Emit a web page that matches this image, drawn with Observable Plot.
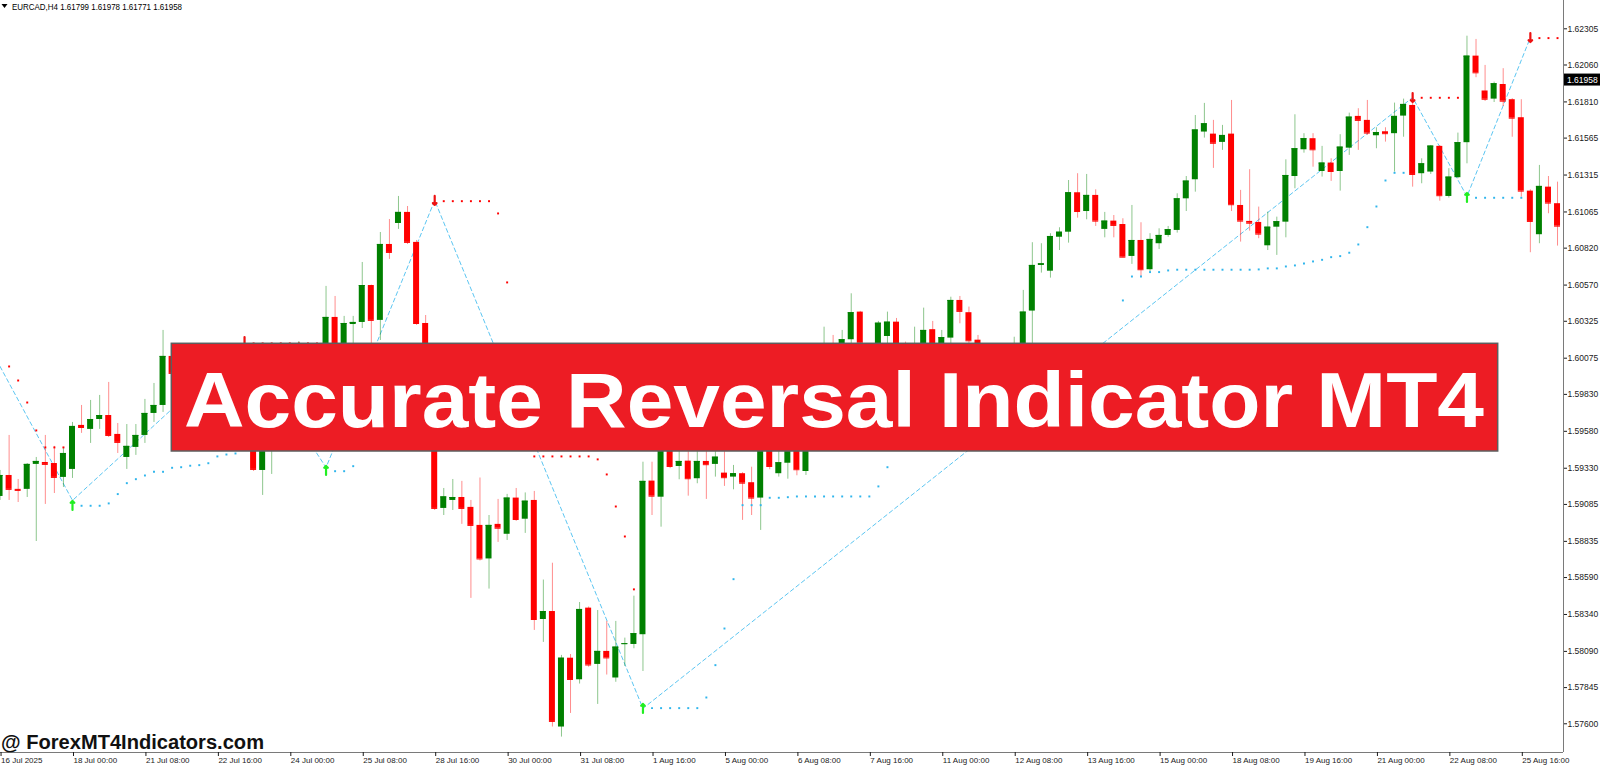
<!DOCTYPE html>
<html>
<head>
<meta charset="utf-8">
<script src="https://cdn.jsdelivr.net/npm/d3@7"></script>
<script src="https://cdn.jsdelivr.net/npm/@observablehq/plot@0.6"></script>
<style>
  html, body { margin: 0; padding: 0; background: #ffffff; }
  #wrap { position: relative; width: 1600px; height: 768px; overflow: hidden; background: #fff; }
  #wrap > svg { position: absolute; left: 0; top: 0; }
</style>
</head>
<body>
<div id="wrap"></div>
<script>
// ---------- DATA (EURCAD H4, bar k = 0 .. 172) ----------
const opens = [
1.59139,1.59281,1.59187,1.59187,1.59356,1.59369,1.59362,1.59268,1.59322,1.59620,
1.59593,1.59660,1.59687,1.59559,1.59403,1.59471,1.59552,1.59701,1.59755,1.60087,
1.59972,1.59890,1.59979,1.60060,1.60114,1.60026,1.60073,1.60128,1.59924,1.59315,
1.59518,1.59654,1.59586,1.59687,1.59789,1.59654,1.59518,1.60351,1.60128,1.60303,
1.60317,1.60567,1.60331,1.60845,1.60987,1.61062,1.60859,1.60310,1.59857,1.59058,
1.59112,1.59132,1.59065,1.58943,1.58716,1.58950,1.58883,1.59128,1.58985,1.59112,
1.58306,1.58360,1.57578,1.58044,1.57898,1.58383,1.58002,1.58090,1.57910,1.58137,
1.58137,1.58203,1.59243,1.59134,1.59518,1.59342,1.59378,1.59259,1.59376,1.59356,
1.59297,1.59270,1.59293,1.59232,1.59128,1.59586,1.59293,1.59364,1.59586,1.59308,
1.59721,1.59992,1.60128,1.60060,1.60200,1.60387,1.60161,1.60026,1.60222,1.60319,
1.60060,1.59958,1.60161,1.60268,1.60094,1.60211,1.60466,1.60383,1.60197,1.60060,
1.59890,1.59992,1.60094,1.60161,1.60394,1.60703,1.60664,1.60894,1.60928,1.61195,
1.61068,1.61177,1.60947,1.61003,1.60980,1.60764,1.60872,1.60674,1.60850,1.60906,
1.60940,1.61154,1.61283,1.61606,1.61592,1.61536,1.61592,1.61109,1.61001,1.60994,
1.60836,1.60962,1.60996,1.61305,1.61486,1.61561,1.61339,1.61396,1.61339,1.61497,
1.61712,1.61685,1.61581,1.61608,1.61595,1.61714,1.61786,1.61324,1.61335,1.61509,
1.61170,1.61297,1.61534,1.62120,1.61884,1.61829,1.61928,1.61825,1.61703,1.61206,
1.60911,1.61233,1.61121];
const highs = [
1.59315,1.59552,1.59254,1.59362,1.59403,1.59552,1.59478,1.59471,1.59640,1.59755,
1.59789,1.59823,1.59911,1.59633,1.59626,1.59626,1.59796,1.59904,1.60263,1.60114,
1.60026,1.60006,1.60094,1.60141,1.60148,1.60128,1.60155,1.60155,1.59979,1.59572,
1.59708,1.59755,1.59735,1.60188,1.59857,1.59721,1.60561,1.60493,1.60358,1.60358,
1.60723,1.60570,1.60926,1.61014,1.61170,1.61102,1.60872,1.60364,1.59924,1.59193,
1.59254,1.59241,1.59112,1.59264,1.59010,1.59119,1.59153,1.59193,1.59163,1.59173,
1.58573,1.58687,1.58063,1.58069,1.58421,1.58391,1.58367,1.58293,1.58293,1.58180,
1.58464,1.59371,1.59371,1.59586,1.59572,1.59484,1.59484,1.59484,1.59518,1.59518,
1.59518,1.59349,1.59300,1.59337,1.59654,1.59654,1.59518,1.59620,1.59654,1.59789,
1.60060,1.60285,1.60229,1.60263,1.60511,1.60392,1.60168,1.60324,1.60387,1.60344,
1.60184,1.60285,1.60414,1.60324,1.60263,1.60488,1.60493,1.60421,1.60229,1.60128,
1.60060,1.60128,1.60217,1.60534,1.60857,1.60850,1.60918,1.60958,1.61278,1.61324,
1.61319,1.61215,1.61062,1.61041,1.61019,1.61109,1.60992,1.60918,1.60951,1.60967,
1.61188,1.61305,1.61718,1.61800,1.61685,1.61651,1.61820,1.61211,1.61351,1.61098,
1.61064,1.61030,1.61418,1.61723,1.61595,1.61595,1.61509,1.61425,1.61588,1.61734,
1.61764,1.61820,1.61635,1.61635,1.61802,1.61829,1.61834,1.61425,1.61515,1.61515,
1.61358,1.61599,1.62255,1.62233,1.62057,1.61944,1.62035,1.61832,1.61825,1.61215,
1.61380,1.61305,1.61267];
const lows = [
1.59112,1.59112,1.59098,1.59132,1.58834,1.59085,1.59159,1.59200,1.59261,1.59566,
1.59498,1.59593,1.59538,1.59430,1.59322,1.59417,1.59498,1.59640,1.59708,1.59924,
1.59843,1.59823,1.59924,1.59992,1.59979,1.59992,1.60019,1.59843,1.59308,1.59146,
1.59288,1.59518,1.59532,1.59620,1.59599,1.59450,1.59464,1.60094,1.59992,1.60128,
1.60276,1.60161,1.60195,1.60744,1.60947,1.60845,1.60297,1.59789,1.59044,1.59010,
1.59044,1.58950,1.58449,1.58702,1.58512,1.58828,1.58841,1.58970,1.58889,1.58232,
1.58151,1.57578,1.57510,1.57670,1.57869,1.57983,1.57731,1.57930,1.57881,1.57988,
1.58108,1.57954,1.59010,1.58931,1.59327,1.59252,1.59141,1.59225,1.59119,1.59270,
1.59207,1.59184,1.58977,1.59010,1.58909,1.59320,1.59270,1.59256,1.59279,1.59281,
1.59654,1.59924,1.59979,1.60019,1.60161,1.60128,1.59924,1.59958,1.60161,1.59924,
1.59857,1.59890,1.60060,1.60026,1.60026,1.60161,1.60308,1.60161,1.59992,1.59823,
1.59789,1.59924,1.60026,1.60114,1.60175,1.60651,1.60617,1.60804,1.60854,1.61023,
1.61012,1.60967,1.60890,1.60890,1.60755,1.60710,1.60628,1.60662,1.60811,1.60894,
1.60922,1.61068,1.61199,1.61565,1.61360,1.61482,1.61068,1.60861,1.60935,1.60884,
1.60804,1.60771,1.60890,1.61222,1.61463,1.61368,1.61301,1.61272,1.61206,1.61448,
1.61482,1.61583,1.61493,1.61538,1.61335,1.61571,1.61233,1.61256,1.61319,1.61138,
1.61159,1.61290,1.61391,1.61974,1.61813,1.61806,1.61779,1.61571,1.61165,1.60789,
1.60850,1.61053,1.60834];
const closes = [
1.59281,1.59187,1.59180,1.59356,1.59376,1.59356,1.59268,1.59430,1.59613,1.59606,
1.59660,1.59687,1.59552,1.59505,1.59478,1.59552,1.59701,1.59755,1.60087,1.59972,
1.59890,1.59979,1.60060,1.60114,1.60026,1.60073,1.60128,1.59924,1.59322,1.59518,
1.59654,1.59586,1.59687,1.59789,1.59654,1.59518,1.60351,1.60161,1.60310,1.60317,
1.60567,1.60331,1.60845,1.60791,1.61062,1.60859,1.60310,1.59857,1.59058,1.59136,
1.59132,1.59058,1.58943,1.58716,1.58943,1.58924,1.59128,1.58983,1.59107,1.58306,
1.58360,1.57616,1.58044,1.57900,1.58374,1.57998,1.58090,1.58046,1.58119,1.58142,
1.58210,1.59241,1.59141,1.59518,1.59342,1.59376,1.59259,1.59376,1.59354,1.59405,
1.59266,1.59293,1.59229,1.59128,1.59586,1.59342,1.59367,1.59586,1.59320,1.59721,
1.59992,1.60128,1.60060,1.60200,1.60383,1.60177,1.60026,1.60312,1.60319,1.60060,
1.59958,1.60161,1.60263,1.60094,1.60214,1.60466,1.60392,1.60193,1.60060,1.59890,
1.59992,1.60094,1.60161,1.60387,1.60703,1.60714,1.60899,1.60928,1.61195,1.61068,
1.61177,1.61003,1.61003,1.60974,1.60759,1.60872,1.60674,1.60879,1.60906,1.60945,
1.61154,1.61274,1.61620,1.61662,1.61530,1.61583,1.61114,1.61003,1.60989,1.60915,
1.60962,1.60999,1.61312,1.61493,1.61561,1.61486,1.61396,1.61339,1.61504,1.61707,
1.61685,1.61599,1.61603,1.61595,1.61712,1.61793,1.61319,1.61391,1.61511,1.61175,
1.61301,1.61534,1.62120,1.62007,1.61828,1.61933,1.61815,1.61700,1.61206,1.61001,
1.61238,1.61125,1.60969];

// reversal signals (arrows)
const signalBars   = [8, 27, 36, 48, 71, 156, 162, 169];
const signalLevels = [1.59078, 1.60188, 1.59315, 1.61143, 1.57704, 1.61840, 1.61163, 1.62246];
const signalDirs   = ["up","down","up","down","up","down","up","down"];

// zigzag swing line
const zigzagBars   = [0, 8, 27, 36, 48, 71, 156, 162, 169];
const zigzagLevels = [1.60019, 1.59112, 1.60182, 1.59335, 1.61143, 1.57704, 1.61840, 1.61170, 1.62246];

// trailing stop dots (red = above price, after sell signal)
const resistBars = [1,2,3,4,5,6,7, 28,29,30,31,32,33,34,35,
  49,50,51,52,53,54,55,56,57,58,59,60,61,62,63,64,65,66,67,68,69,70,
  157,158,159,160,161, 170,171,172];
const resistLevels = [1.60019,1.59924,1.59775,1.59586,1.59471,1.59471,1.59471,
  1.60175,1.60175,1.60175,1.60175,1.60175,1.60175,1.60175,1.60175,
  1.61138,1.61138,1.61138,1.61138,1.61138,1.61138,1.61055,1.60588,1.59789,1.59484,
  1.59410,1.59410,1.59410,1.59410,1.59410,1.59410,1.59410,1.59390,1.59288,1.59071,1.58868,1.58510,
  1.61838,1.61838,1.61838,1.61838,1.61838, 1.62242,1.62242,1.62242];

// trailing stop dots (blue = below price, after buy signal)
const supportBars = [9,10,11,12,13,14,15,16,17,18,19,20,21,22,23,24,25,26,
  37,38,39,40,41,42,43,44,45,46,47,
  72,73,74,75,76,77,78,79,80,81,82,83,84,85,86,87,88,89,90,91,92,93,94,95,96,97,98,99,
  100,101,102,103,104,105,106,107,108,109,110,111,112,113,114,115,116,117,118,119,
  120,121,122,123,124,125,126,127,128,129,130,131,132,133,134,135,136,137,138,139,
  140,141,142,143,144,145,146,147,148,149,150,151,152,153,154,155,
  163,164,165,166,167,168];
const supportLevels = [1.59076,1.59076,1.59076,1.59092,1.59155,1.59229,1.59256,1.59281,1.59306,1.59306,
  1.59333,1.59337,1.59347,1.59351,1.59364,1.59410,1.59423,1.59430,
  1.59310,1.59310,1.59344,1.59464,1.59518,1.59586,1.59721,1.59857,1.59992,1.60060,1.60128,
  1.57706,1.57706,1.57706,1.57706,1.57706,1.57706,1.57778,1.57997,1.58245,1.58579,
  1.59080,1.59080,1.59080,1.59130,1.59130,1.59134,
  1.59139,1.59139,1.59139,1.59139,1.59139,1.59139,1.59139,1.59139,1.59139,1.59207,1.59337,
  1.59457,1.59484,1.59518,1.59586,1.59654,1.59721,1.59789,1.59823,1.59857,1.59890,
  1.59924,1.59938,1.59951,1.59965,1.59979,1.59992,1.60026,1.60060,1.60094,1.60114,
  1.60128,1.60141,1.60148,1.60155,1.60161,
  1.60466,1.60628,1.60628,1.60658,1.60658,1.60669,
  1.60674,1.60674,1.60674,1.60674,1.60674,1.60674,1.60674,1.60674,1.60674,
  1.60676,1.60683,1.60683,1.60696,1.60703,1.60716,1.60730,1.60741,1.60759,1.60766,
  1.60789,1.60845,1.60962,1.61102,1.61278,1.61330,1.61330,
  1.61161,1.61161,1.61161,1.61161,1.61161,1.61161];

// axes
const yTicks = [1.62305,1.62060,1.61810,1.61565,1.61315,1.61065,1.60820,1.60570,1.60325,1.60075,
  1.59830,1.59580,1.59330,1.59085,1.58835,1.58590,1.58340,1.58090,1.57845,1.57600];
const xTickBars = [0,8,16,24,32,40,48,56,64,72,80,88,96,104,112,120,128,136,144,152,160,168];
const xTickLabels = ["16 Jul 2025","18 Jul 00:00","21 Jul 08:00","22 Jul 16:00","24 Jul 00:00",
  "25 Jul 08:00","28 Jul 16:00","30 Jul 00:00","31 Jul 08:00","1 Aug 16:00","5 Aug 00:00",
  "6 Aug 08:00","7 Aug 16:00","11 Aug 00:00","12 Aug 08:00","13 Aug 16:00","15 Aug 00:00",
  "18 Aug 08:00","19 Aug 16:00","21 Aug 00:00","22 Aug 08:00","25 Aug 16:00"];
const currentBid = 1.61958;
const headerText = "EURCAD,H4  1.61799 1.61978 1.61771 1.61958";
const bannerTitle = "Accurate Reversal Indicator MT4";
const watermark = "@ ForexMT4Indicators.com";

// ---------- BUILD ----------
const bars = opens.map((open, k) => ({k, open, high: highs[k], low: lows[k], close: closes[k]}));
const bull = bars.filter(d => d.close >= d.open);
const bear = bars.filter(d => d.close < d.open);
const signals = signalBars.map((k, j) => ({k, v: signalLevels[j], dir: signalDirs[j]}));
const zigzag = zigzagBars.map((k, j) => ({k, v: zigzagLevels[j]}));
const resist = resistBars.map((k, j) => ({k, v: resistLevels[j]}));
const support = supportBars.map((k, j) => ({k, v: supportLevels[j]}));
const labelOf = new Map(xTickBars.map((k, j) => [k, xTickLabels[j]]));

const GREEN = "#008000", RED = "#ff0000", BLUE = "#2fb5ec", LINE = "#5cc6f2";
const xDomain = [0.049, 172.66];
const yDomain = [1.574056, 1.624966];
const half = 0.331;
const FONT = "'Liberation Sans', Arial, sans-serif";

function candles(data, color) {
  return [
    Plot.ruleX(data, {x: "k", y1: "low", y2: "high", stroke: color, strokeOpacity: 0.45, clip: true}),
    Plot.rect(data, {x1: d => d.k - half, x2: d => d.k + half, y1: "open", y2: "close", fill: color, clip: true}),
    Plot.ruleY(data, {x1: d => d.k - half, x2: d => d.k + half, y: "close", stroke: color, clip: true})
  ];
}

const plot = Plot.plot({
  width: 1600, height: 768,
  marginLeft: 0, marginRight: 37, marginTop: 0, marginBottom: 16,
  x: {type: "linear", domain: xDomain},
  y: {type: "linear", domain: yDomain},
  style: {fontFamily: FONT, fontSize: "8px", background: "#ffffff", color: "#1a1a1a"},
  marks: [
    Plot.line(zigzag, {x: "k", y: "v", stroke: LINE, strokeWidth: 1, strokeDasharray: "4,3", clip: true}),
    ...candles(bull, GREEN),
    ...candles(bear, RED),
    Plot.dot(resist, {x: "k", y: "v", symbol: "square", r: 1.1, fill: RED, clip: true}),
    Plot.dot(support, {x: "k", y: "v", symbol: "square", r: 1.1, fill: BLUE, clip: true}),
    Plot.vector(signals.filter(d => d.dir === "up"), {x: "k", y: "v", length: 9, rotate: 0, anchor: "middle", stroke: "#22ee22", strokeWidth: 2.2}),
    Plot.vector(signals.filter(d => d.dir === "down"), {x: "k", y: "v", length: 9, rotate: 180, anchor: "middle", stroke: "#ee1111", strokeWidth: 2.2}),
    Plot.ruleX([xDomain[1]], {stroke: "#7a7a7a"}),
    Plot.ruleY([yDomain[0]], {stroke: "#7a7a7a"}),
    Plot.axisY({ticks: yTicks, anchor: "right", tickSize: 3, tickPadding: 1, tickFormat: d => d.toFixed(5), fontSize: 8.5, label: null, color: "#1a1a1a"}),
    Plot.axisX({ticks: xTickBars, anchor: "bottom", tickSize: 4, tickPadding: 1, tickFormat: d => labelOf.get(d), textAnchor: "start", dx: 1, fontSize: 8, label: null, color: "#1a1a1a"})
  ]
});

const wrap = document.getElementById("wrap");
wrap.appendChild(plot);

// ---------- overlays (header, bid label, banner, watermark) ----------
const yScale = plot.scale("y");
const ov = d3.create("svg").attr("width", 1600).attr("height", 768).attr("viewBox", "0 0 1600 768");
ov.append("path").attr("d", "M1.5,4 L7.5,4 L4.5,8 Z").attr("fill", "#000");
ov.append("text").attr("x", 12).attr("y", 9.5).attr("font-family", FONT).attr("font-size", 8.5)
  .attr("textLength", 170).attr("lengthAdjust", "spacingAndGlyphs").attr("fill", "#000").text(headerText);

const yb = yScale.apply(currentBid);
ov.append("rect").attr("x", 1564).attr("y", yb - 6).attr("width", 36).attr("height", 12).attr("fill", "#000");
ov.append("text").attr("x", 1567).attr("y", yb).attr("dy", "0.35em").attr("font-family", FONT).attr("font-size", 8.5)
  .attr("fill", "#fff").text(currentBid.toFixed(5));

ov.append("rect").attr("x", 171.3).attr("y", 343.3).attr("width", 1326.4).attr("height", 107.7)
  .attr("fill", "#ed1c24").attr("stroke", "#5e5e5e").attr("stroke-width", 1.5);
ov.append("text").attr("x", 184).attr("y", 427).attr("font-family", FONT).attr("font-weight", "bold")
  .attr("font-size", 78).attr("textLength", 1300).attr("lengthAdjust", "spacingAndGlyphs").attr("fill", "#fff").text(bannerTitle);

ov.append("text").attr("x", 1).attr("y", 749).attr("font-family", FONT).attr("font-weight", "bold")
  .attr("font-size", 20).attr("textLength", 263).attr("lengthAdjust", "spacingAndGlyphs").attr("fill", "#111").text(watermark);

wrap.appendChild(ov.node());
</script>
</body>
</html>
